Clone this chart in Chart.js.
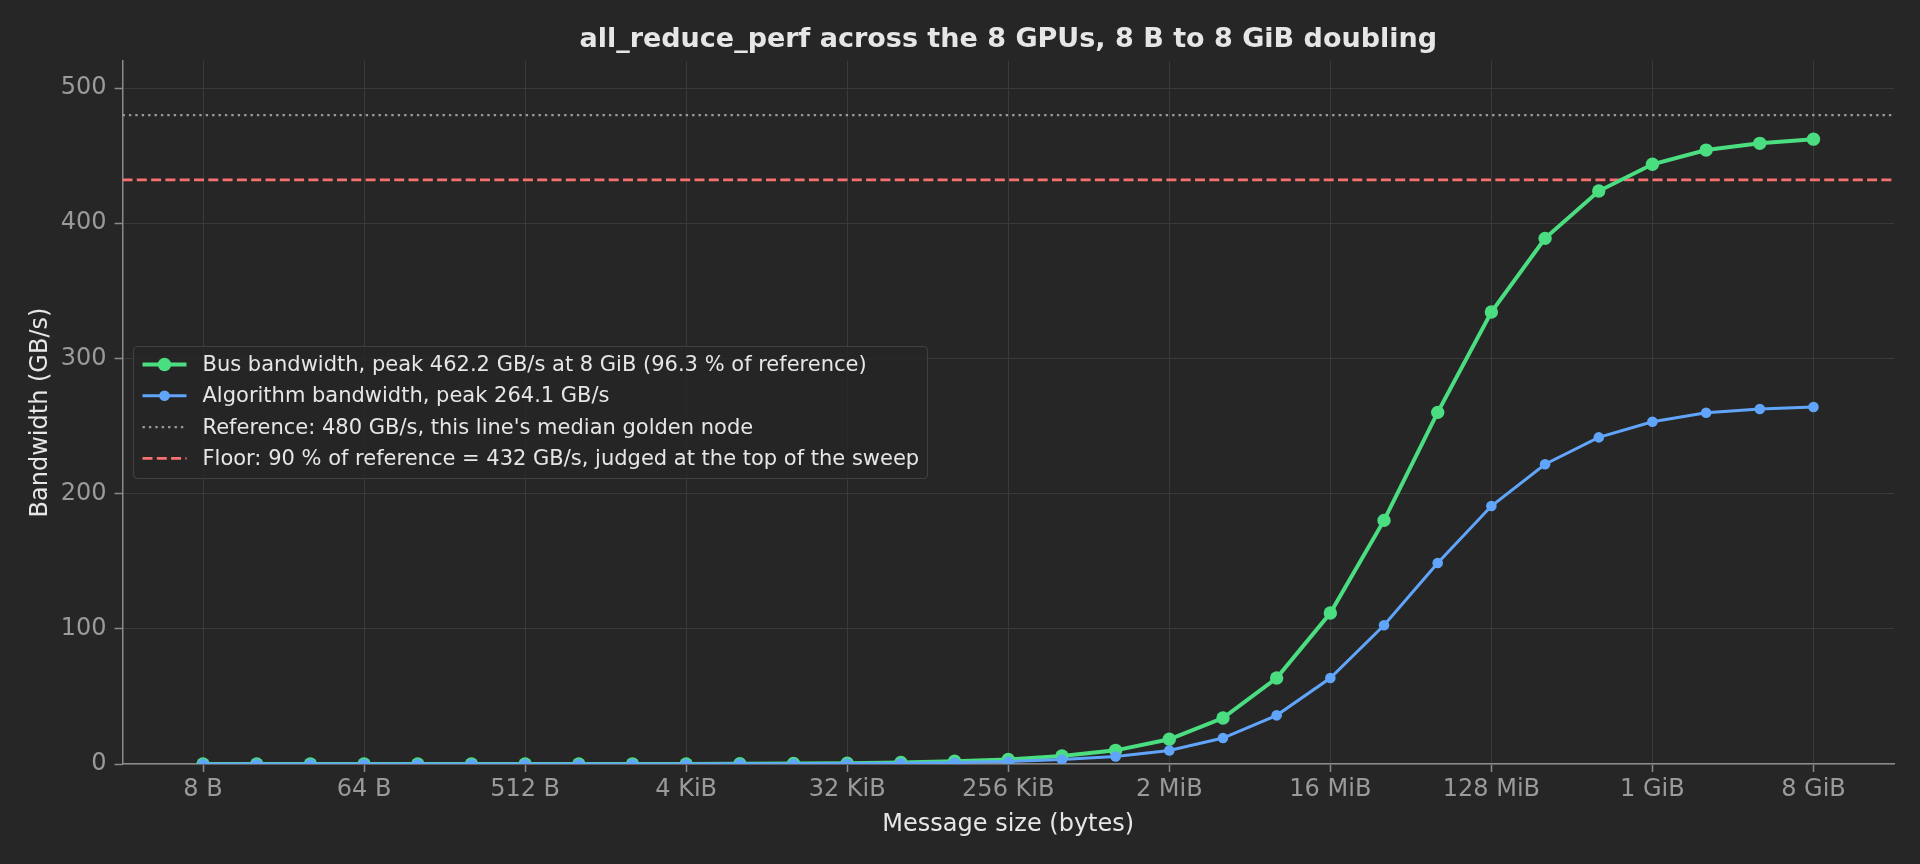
<!DOCTYPE html>
<html>
<head>
<meta charset="utf-8">
<title>all_reduce_perf</title>
<script src="https://cdn.jsdelivr.net/npm/chart.js@4.4.1/dist/chart.umd.min.js"></script>
<style>
  html, body { margin: 0; padding: 0; background: #262626; }
  #wrap { width: 1920px; height: 864px; }
</style>
</head>
<body>
<div id="wrap"><canvas id="chart" width="1920" height="864"></canvas></div>
<script>
// message sizes in bytes, 8 B .. 8 GiB doubling
const messageSizes = [8, 16, 32, 64, 128, 256, 512, 1024, 2048, 4096, 8192, 16384, 32768,
  65536, 131072, 262144, 524288, 1048576, 2097152, 4194304, 8388608, 16777216, 33554432,
  67108864, 134217728, 268435456, 536870912, 1073741824, 2147483648, 4294967296, 8589934592];

// GB/s
const busBandwidth = [0.00, 0.00, 0.00, 0.01, 0.01, 0.01, 0.02, 0.03, 0.05, 0.09, 0.17, 0.32, 0.6,
  1.1, 2.0, 3.4, 5.9, 10.1, 18.3, 34.0, 63.6, 111.7, 180.2, 260.1, 334.3, 388.8, 423.8,
  443.6, 454.1, 459.1, 462.2];
const algBandwidth = [0.00, 0.00, 0.00, 0.00, 0.01, 0.01, 0.01, 0.02, 0.03, 0.05, 0.10, 0.18, 0.34,
  0.6, 1.1, 1.9, 3.3, 5.6, 10.0, 19.2, 36.0, 63.6, 102.6, 148.7, 190.8, 221.7, 241.6,
  253.2, 259.8, 262.6, 264.1];

const referenceGBs = 480;
const floorGBs = 432;

const xTickValues = [8, 64, 512, 4096, 32768, 262144, 2097152, 16777216, 134217728, 1073741824, 8589934592];
const xTickLabels = ['8 B', '64 B', '512 B', '4 KiB', '32 KiB', '256 KiB', '2 MiB', '16 MiB', '128 MiB', '1 GiB', '8 GiB'];
const yTickValues = [0, 100, 200, 300, 400, 500];

// axis limits: 1.5 doublings of margin on each side
const xMin = 8 / Math.pow(2, 1.5);
const xMax = 8589934592 * Math.pow(2, 1.5);
const yMax = 520;

const chartTitle = 'all_reduce_perf across the 8 GPUs, 8 B to 8 GiB doubling';
const legendLabels = [
  'Bus bandwidth, peak 462.2 GB/s at 8 GiB (96.3 % of reference)',
  'Algorithm bandwidth, peak 264.1 GB/s',
  "Reference: 480 GB/s, this line's median golden node",
  'Floor: 90 % of reference = 432 GB/s, judged at the top of the sweep'
];

const FONT = "'DejaVu Sans', sans-serif";
const GREEN = '#4ade80';
const BLUE = '#60a5fa';
const RED = '#f87171';
const GREY = '#9a9a9a';

const toPoints = (vals) => vals.map((v, i) => ({ x: messageSizes[i], y: v }));

// title centred over the plot area, not the whole canvas
const axesTitle = {
  id: 'axesTitle',
  afterDraw(chart) {
    const ctx = chart.ctx;
    const area = chart.chartArea;
    ctx.save();
    ctx.font = 'bold 27px ' + FONT;
    ctx.fillStyle = '#e6e6e6';
    ctx.textAlign = 'center';
    ctx.textBaseline = 'middle';
    ctx.fillText(chartTitle, (area.left + area.right) / 2, 40);
    ctx.restore();
  }
};

// legend drawn inside the plot, center left, like the original
const insideLegend = {
  id: 'insideLegend',
  afterDraw(chart) {
    const ctx = chart.ctx;
    const area = chart.chartArea;
    const boxX = area.left + 11, boxW = 794, boxH = 132;
    const boxY = (area.top + area.bottom) / 2 - boxH / 2;
    ctx.save();
    ctx.fillStyle = 'rgba(38,38,38,0.8)';
    ctx.strokeStyle = '#404040';
    ctx.lineWidth = 1.2;
    ctx.beginPath();
    ctx.roundRect(boxX, boxY, boxW, boxH, 4);
    ctx.fill();
    ctx.stroke();

    const items = [
      { color: GREEN, width: 4, dash: [], marker: 6.7 },
      { color: BLUE, width: 3, dash: [], marker: 5.3 },
      { color: GREY, width: 2.4, dash: [2.4, 4], marker: 0 },
      { color: RED, width: 2.7, dash: [10, 4.3], marker: 0 }
    ];
    ctx.font = '21px ' + FONT;
    ctx.textBaseline = 'middle';
    items.forEach((it, i) => {
      const y = boxY + 18 + i * 31.3;
      ctx.strokeStyle = it.color;
      ctx.lineWidth = it.width;
      ctx.setLineDash(it.dash);
      ctx.beginPath();
      ctx.moveTo(boxX + 9, y);
      ctx.lineTo(boxX + 53, y);
      ctx.stroke();
      ctx.setLineDash([]);
      if (it.marker) {
        ctx.fillStyle = it.color;
        ctx.beginPath();
        ctx.arc(boxX + 31, y, it.marker, 0, Math.PI * 2);
        ctx.fill();
      }
      ctx.fillStyle = '#e6e6e6';
      ctx.fillText(legendLabels[i], boxX + 69, y + 1);
    });
    ctx.restore();
  }
};

new Chart(document.getElementById('chart'), {
  type: 'line',
  data: {
    datasets: [
      {
        label: legendLabels[0],
        data: toPoints(busBandwidth),
        borderColor: GREEN,
        backgroundColor: GREEN,
        borderWidth: 4,
        pointRadius: 6.7,
        pointBorderWidth: 0,
        tension: 0,
        clip: 0,
        order: 2
      },
      {
        label: legendLabels[1],
        data: toPoints(algBandwidth),
        borderColor: BLUE,
        backgroundColor: BLUE,
        borderWidth: 3,
        pointRadius: 5.3,
        pointBorderWidth: 0,
        tension: 0,
        clip: 0,
        order: 1
      },
      {
        label: legendLabels[2],
        data: [{ x: xMin, y: referenceGBs }, { x: xMax, y: referenceGBs }],
        borderColor: GREY,
        borderWidth: 2.4,
        borderDash: [2.4, 4],
        pointRadius: 0,
        order: 4
      },
      {
        label: legendLabels[3],
        data: [{ x: xMin, y: floorGBs }, { x: xMax, y: floorGBs }],
        borderColor: RED,
        borderWidth: 2.7,
        borderDash: [10, 4.3],
        pointRadius: 0,
        order: 3
      }
    ]
  },
  options: {
    responsive: false,
    animation: false,
    devicePixelRatio: 1,
    layout: { padding: { left: 0, right: 26, top: 61, bottom: 0 } },
    plugins: {
      legend: { display: false },
      tooltip: { enabled: false },
      title: { display: false }
    },
    scales: {
      x: {
        type: 'logarithmic',
        min: xMin,
        max: xMax,
        afterBuildTicks(scale) {
          scale.ticks = xTickValues.map(v => ({ value: v }));
        },
        afterFit(scale) { scale.height = 100; },
        ticks: {
          color: GREY,
          font: { family: FONT, size: 24 },
          padding: 3,
          maxRotation: 0,
          autoSkip: false,
          callback: (v, i) => xTickLabels[i]
        },
        grid: { color: '#3a3a3a', lineWidth: 1, tickColor: '#8a8a8a', tickLength: 8, tickWidth: 1.5 },
        border: { color: '#8a8a8a', width: 1.5 },
        title: {
          display: true,
          text: 'Message size (bytes)',
          color: '#e6e6e6',
          font: { family: FONT, size: 24 },
          padding: { top: 0, bottom: 25 }
        }
      },
      y: {
        min: 0,
        max: yMax,
        afterBuildTicks(scale) {
          scale.ticks = yTickValues.map(v => ({ value: v }));
        },
        afterFit(scale) { scale.width = 122.5; },
        ticks: {
          color: GREY,
          font: { family: FONT, size: 24 },
          padding: 8
        },
        grid: { color: '#3a3a3a', lineWidth: 1, tickColor: '#8a8a8a', tickLength: 8, tickWidth: 1.5 },
        border: { color: '#8a8a8a', width: 1.5 },
        title: {
          display: true,
          text: 'Bandwidth (GB/s)',
          color: '#e6e6e6',
          font: { family: FONT, size: 24 },
          padding: { top: 26, bottom: 0 }
        }
      }
    }
  },
  plugins: [axesTitle, insideLegend]
});
</script>
</body>
</html>
